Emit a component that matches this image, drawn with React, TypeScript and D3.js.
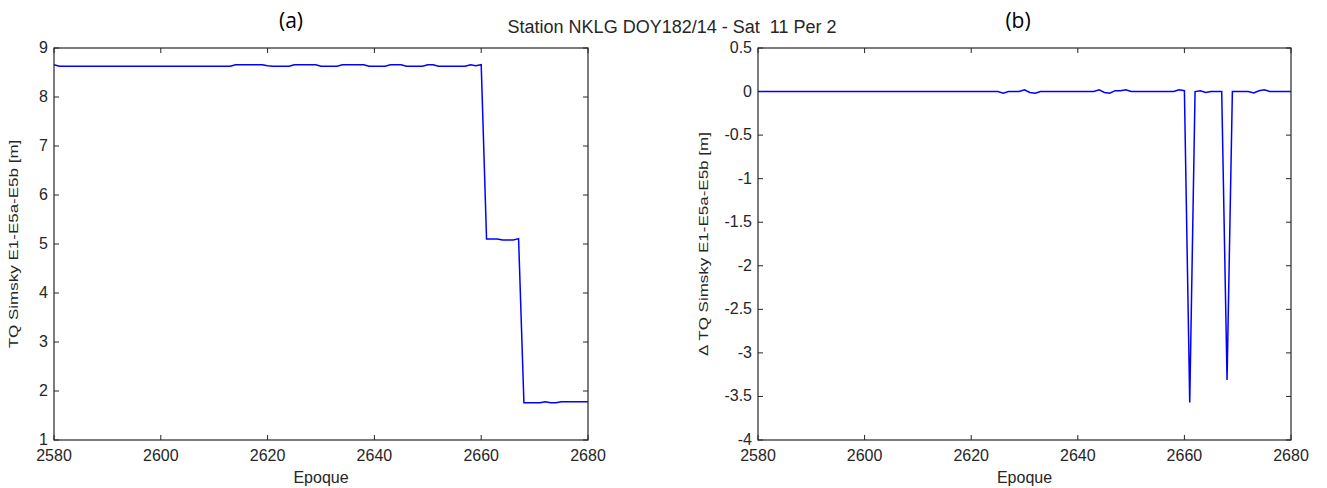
import React from 'react';
import * as d3 from 'd3';

// panel (a): TQ Simsky combination, breakpoints
const epochsA = [2580, 2581, 2613, 2614, 2619, 2620, 2621, 2624, 2625, 2629, 2630, 2633, 2634, 2638, 2639, 2642, 2643, 2645, 2646, 2649, 2650, 2651, 2652, 2657, 2658, 2659, 2660, 2661, 2663, 2664, 2666, 2667, 2668, 2671, 2672, 2673, 2674, 2675, 2680];
const valuesA = [8.66, 8.63, 8.63, 8.66, 8.66, 8.64, 8.63, 8.63, 8.66, 8.66, 8.63, 8.63, 8.66, 8.66, 8.63, 8.63, 8.66, 8.66, 8.63, 8.63, 8.66, 8.66, 8.63, 8.63, 8.66, 8.64, 8.66, 5.10, 5.10, 5.08, 5.08, 5.11, 1.76, 1.76, 1.78, 1.76, 1.76, 1.78, 1.78];

// panel (b): epoch-to-epoch difference
const epochsB = [2580, 2625, 2626, 2627, 2629, 2630, 2631, 2632, 2633, 2643, 2644, 2645, 2646, 2647, 2648, 2649, 2650, 2658, 2659, 2660, 2661, 2662, 2663, 2664, 2665, 2667, 2668, 2669, 2672, 2673, 2674, 2675, 2676, 2680];
const valuesB = [0, 0, -0.02, 0, 0, 0.02, -0.01, -0.02, 0, 0, 0.02, -0.01, -0.02, 0.01, 0.01, 0.02, 0, 0, 0.02, 0.01, -3.57, 0, 0.01, -0.01, 0, 0, -3.31, 0, 0, -0.015, 0.01, 0.02, 0, 0];

const xTicks = [2580, 2600, 2620, 2640, 2660, 2680];
const yTicksA = [1, 2, 3, 4, 5, 6, 7, 8, 9];
const yTicksB = [0.5, 0, -0.5, -1, -1.5, -2, -2.5, -3, -3.5, -4];

const font = "'Liberation Sans', Arial, sans-serif";
const ink = '#262626';

function Panel(props) {
  const { left, right, top, bottom, yDomain, yTicks, xs, ys, ylabel, labelOffset } = props;
  const x = d3.scaleLinear().domain([2580, 2680]).range([left, right]);
  const y = d3.scaleLinear().domain(yDomain).range([bottom, top]);
  const line = d3.line<number>()
    .x((d, i) => x(xs[i]))
    .y((d) => y(d));
  const tk = 5;
  const midY = (top + bottom) / 2;

  return (
    <g fontFamily={font} fontSize={16} fill={ink}>
      <rect x={left} y={top} width={right - left} height={bottom - top} fill="#fff" />
      <path d={line(ys) || ''} fill="none" stroke="#0000ff" strokeWidth={1.5} />
      {xTicks.map((t) => (
        <g key={'x' + t}>
          <line x1={x(t)} x2={x(t)} y1={bottom} y2={bottom - tk} stroke={ink} />
          <line x1={x(t)} x2={x(t)} y1={top} y2={top + tk} stroke={ink} />
          <text x={x(t)} y={bottom + 21} textAnchor="middle">{t}</text>
        </g>
      ))}
      {yTicks.map((t) => (
        <g key={'y' + t}>
          <line x1={left} x2={left + tk} y1={y(t)} y2={y(t)} stroke={ink} />
          <line x1={right} x2={right - tk} y1={y(t)} y2={y(t)} stroke={ink} />
          <text x={left - 6} y={y(t) + 5} textAnchor="end">{t}</text>
        </g>
      ))}
      <rect x={left} y={top} width={right - left} height={bottom - top} fill="none" stroke={ink} strokeWidth={1.2} />
      <text x={(left + right) / 2} y={bottom + 43} textAnchor="middle">Epoque</text>
      <text
        transform={`translate(${left - labelOffset},${midY}) rotate(-90) scale(1,0.78)`}
        textAnchor="middle"
        fontSize={17}
        dy="0.35em"
      >{ylabel}</text>
    </g>
  );
}

export default function App() {
  return (
    <svg
      width={1327}
      height={488}
      style={{ position: 'absolute', left: 0, top: 0, background: '#fff' }}
    >
      <rect width={1327} height={488} fill="#fff" />
      <Panel
        left={54} right={588} top={48} bottom={440}
        yDomain={[1, 9]} yTicks={yTicksA}
        xs={epochsA} ys={valuesA}
        ylabel="TQ Simsky E1-E5a-E5b [m]"
        labelOffset={41}
      />
      <Panel
        left={758} right={1291} top={48} bottom={440}
        yDomain={[-4, 0.5]} yTicks={yTicksB}
        xs={epochsB} ys={valuesB}
        ylabel="Δ TQ Simsky E1-E5a-E5b [m]"
        labelOffset={55}
      />
      <text x={672} y={33} textAnchor="middle" fontFamily={font} fontSize={18} fill={ink} style={{ whiteSpace: 'pre' }}>
        {'Station NKLG DOY182/14 - Sat  11 Per 2'}
      </text>
      <text x={291} y={28} textAnchor="middle" fontFamily="'Open Sans', Carlito, sans-serif" fontSize={21} fill="#000">(a)</text>
      <text x={1018} y={28} textAnchor="middle" fontFamily="'Open Sans', Carlito, sans-serif" fontSize={21} fill="#000">(b)</text>
    </svg>
  );
}
